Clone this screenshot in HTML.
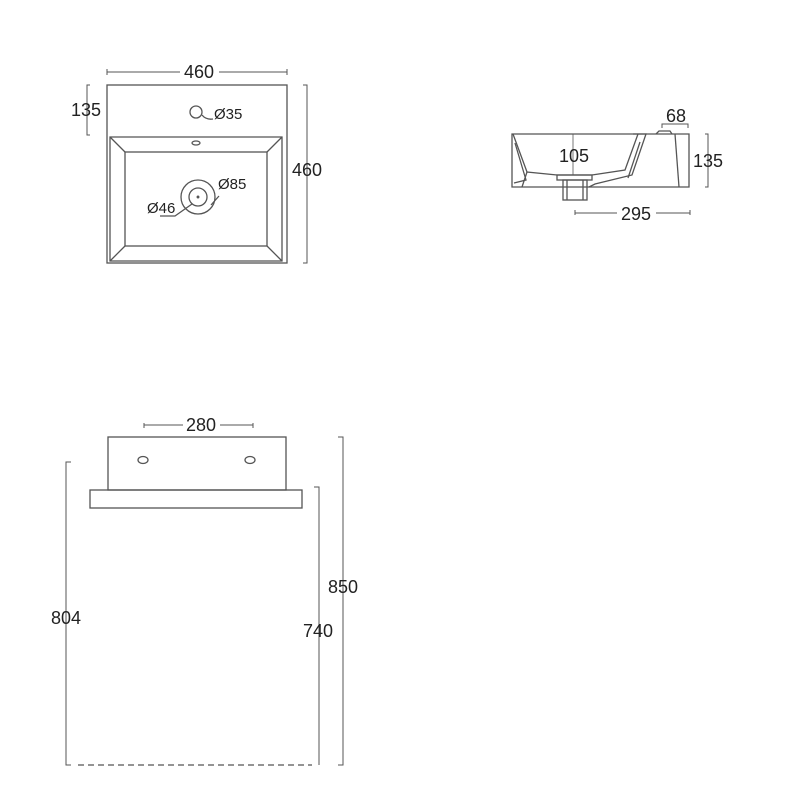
<!DOCTYPE html>
<html><head><meta charset="utf-8"><style>
html,body{margin:0;padding:0;background:#fff;}
svg{display:block;}
text{font-family:"Liberation Sans",sans-serif;fill:#222;}
</style></head><body>
<svg width="800" height="800" viewBox="0 0 800 800" xmlns="http://www.w3.org/2000/svg">
<g fill="none" stroke="#555" stroke-width="1.3">
<rect x="107" y="85" width="180" height="178"/>
<path d="M110 137 H282 V261 H110 Z"/>
<rect x="125" y="152" width="142" height="94"/>
<path d="M110 137 L125 152 M282 137 L267 152 M110 261 L125 246 M282 261 L267 246"/>
<circle cx="196" cy="112" r="6"/>
<path d="M202 115 Q206 120 213 119"/>
<ellipse cx="196" cy="143" rx="4" ry="2"/>
<circle cx="198" cy="197" r="17"/>
<circle cx="198" cy="197" r="9"/>
<circle cx="198" cy="197" r="0.8" fill="#555"/>
<path d="M211 205 L219 196 M192 204 L175 216 H160"/>
<path d="M107 69 V75 M107 72 H180 M219 72 H287 M287 69 V75" stroke-width="1"/>
<path d="M90 85 H87 V135 H90" stroke-width="1"/>
<path d="M303 85 H307 V263 H303" stroke-width="1"/>
<path d="M512 134 H689 V187 H512 Z"/>
<path d="M513 134 L527 172 L557 175 L592 175 L625 170 L638 134"/>
<path d="M515 143 L526 180 L514 183"/>
<path d="M527 172 L522 187"/>
<path d="M633 134 L646 134 L632 175 L595 184 L589 187"/>
<path d="M640 142 L628 178"/>
<path d="M675 134 L679 187"/>
<path d="M656 134 L659 131 H670 L672 134"/>
<rect x="557" y="175" width="35" height="5"/>
<rect x="563" y="180" width="24" height="20"/>
<path d="M567 180 V200 M583 180 V200"/>
<path d="M573 134 V175" stroke-width="0.8"/>
<path d="M662 128 V124 H688 V128" stroke-width="1"/>
<path d="M705 134 H708 V187 H705" stroke-width="1"/>
<path d="M575 210 V215 M575 213 H617 M656 213 H690 M690 210 V215" stroke-width="1"/>
<rect x="108" y="437" width="178" height="53"/>
<rect x="90" y="490" width="212" height="18"/>
<ellipse cx="143" cy="460" rx="5" ry="3.5"/>
<ellipse cx="250" cy="460" rx="5" ry="3.5"/>
<path d="M144 423 V428 M144 425 H183 M220 425 H253 M253 423 V428" stroke-width="1"/>
<path d="M71 462 H66 V765 H71" stroke-width="1"/>
<path d="M314 487 H319 V765" stroke-width="1"/>
<path d="M338 437 H343 V765 H338" stroke-width="1"/>
<path d="M78 765 H312" stroke-width="1.2" stroke-dasharray="6,4"/>
</g>
<g font-size="18">
<text x="199" y="78" text-anchor="middle">460</text>
<text x="86" y="116" text-anchor="middle">135</text>
<text x="307" y="176" text-anchor="middle">460</text>
<text x="214" y="119" font-size="15">Ø35</text>
<text x="218" y="189" font-size="15">Ø85</text>
<text x="147" y="213" font-size="15">Ø46</text>
<text x="574" y="162" text-anchor="middle">105</text>
<text x="676" y="122" text-anchor="middle">68</text>
<text x="708" y="167" text-anchor="middle">135</text>
<text x="636" y="220" text-anchor="middle">295</text>
<text x="201" y="431" text-anchor="middle">280</text>
<text x="66" y="624" text-anchor="middle">804</text>
<text x="318" y="637" text-anchor="middle">740</text>
<text x="343" y="593" text-anchor="middle">850</text>
</g>
</svg>
</body></html>
